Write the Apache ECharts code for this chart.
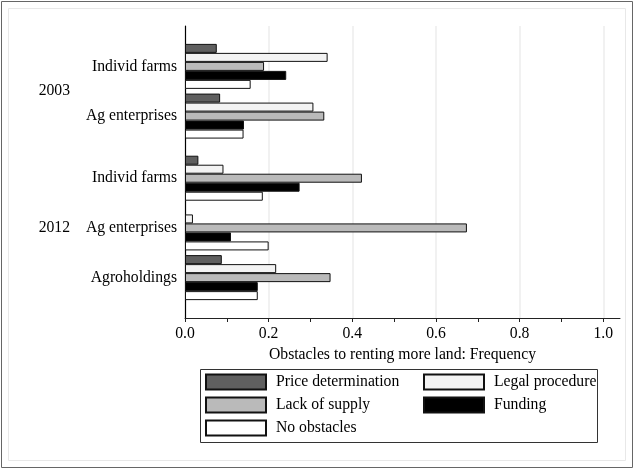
<!DOCTYPE html>
<html>
<head>
<meta charset="utf-8">
<script src="https://cdn.jsdelivr.net/npm/echarts@6/dist/echarts.min.js"></script>
<style>
  html, body { margin: 0; padding: 0; background: #fff; }
  #chart { width: 635px; height: 470px; }
</style>
</head>
<body>
<div id="chart"></div>
<script>
// rows, top to bottom
const categories = ['Individ farms', 'Ag enterprises', 'Individ farms', 'Ag enterprises', 'Agroholdings'];
const years = ['2003', '2012'];

const priceDetermination = [0.076, 0.084, 0.032, 0, 0.088];
const legalProcedure = [0.341, 0.307, 0.092, 0.019, 0.218];
const lackOfSupply = [0.189, 0.333, 0.423, 0.674, 0.348];
const funding = [0.242, 0.141, 0.274, 0.110, 0.174];
const noObstacles = [0.157, 0.140, 0.186, 0.200, 0.174];

const xTickValues = [0, 0.1, 0.2, 0.3, 0.4, 0.5, 0.6, 0.7, 0.8, 0.9, 1.0];
const xLabelValues = [0, 0.2, 0.4, 0.6, 0.8, 1.0];

// layout: the y axis is cut in thin slots so the gap between the years can be wider
const slotCount = 47;
const rowSlot = [6, 14, 24, 32, 40];
const yearSlot = [10, 32];

const font = 'Liberation Serif';
const fontSize = 15.7;

const rowAxisData = new Array(slotCount).fill('');
rowSlot.forEach((s, i) => { rowAxisData[s] = categories[i]; });
const yearAxisData = new Array(slotCount).fill('');
yearSlot.forEach((s, i) => { yearAxisData[s] = years[i]; });

const toSlots = (values) => {
  const out = new Array(slotCount).fill('-');
  rowSlot.forEach((s, i) => {
    // a zero bar would leave a stray outline on the axis
    out[s] = values[i] === 0 ? { value: 0, itemStyle: { borderWidth: 0 } } : values[i];
  });
  return out;
};

const seriesDefs = [
  { name: 'Price determination', values: priceDetermination, color: '#5f5f5f' },
  { name: 'Legal procedure', values: legalProcedure, color: '#f3f3f3' },
  { name: 'Lack of supply', values: lackOfSupply, color: '#bababa' },
  { name: 'Funding', values: funding, color: '#000000' },
  { name: 'No obstacles', values: noObstacles, color: '#ffffff' }
];

const myChart = echarts.init(document.getElementById('chart'));

const legendText = { fontFamily: font, fontSize: fontSize, color: '#000', lineHeight: 18, padding: [0, 0, 0, 5] };

const option = {
  animation: false,
  backgroundColor: '#fff',
  textStyle: { fontFamily: font },
  grid: { left: 185, right: 15, top: 26, bottom: 152 },
  xAxis: [
    {
      type: 'value',
      min: 0,
      max: 1.04,
      name: 'Obstacles to renting more land: Frequency',
      nameLocation: 'middle',
      nameGap: 25,
      nameTextStyle: { fontFamily: font, fontSize: fontSize, color: '#000' },
      axisLine: { show: true, lineStyle: { color: '#222', width: 1 } },
      axisTick: { show: true, length: 4, customValues: xTickValues, lineStyle: { color: '#222' } },
      axisLabel: {
        customValues: xLabelValues,
        fontFamily: font, fontSize: fontSize, color: '#000', margin: 8,
        formatter: (v) => v.toFixed(1)
      },
      splitLine: { show: false }
    },
    {
      // gridlines only
      type: 'value',
      min: 0,
      max: 1.04,
      interval: 0.2,
      position: 'bottom',
      axisLine: { show: false },
      axisTick: { show: false },
      axisLabel: { show: false },
      splitLine: { show: true, showMinLine: false, showMaxLine: false, lineStyle: { color: '#ececec', width: 1.5 } }
    }
  ],
  yAxis: [
    {
      type: 'category',
      inverse: true,
      data: rowAxisData,
      axisLine: { show: true, onZero: false, lineStyle: { color: '#000', width: 1.2 } },
      axisTick: { show: false },
      axisLabel: { interval: 0, fontFamily: font, fontSize: fontSize, color: '#000', margin: 8 },
      splitLine: { show: false }
    },
    {
      type: 'category',
      inverse: true,
      position: 'left',
      offset: 107,
      data: yearAxisData,
      axisLine: { show: false },
      axisTick: { show: false },
      axisLabel: { interval: 0, fontFamily: font, fontSize: fontSize, color: '#000', margin: 8 },
      splitLine: { show: false }
    }
  ],
  legend: [
    {
      orient: 'vertical',
      left: 205,
      top: 373,
      padding: 0,
      itemWidth: 60,
      itemHeight: 15,
      itemGap: 5,
      icon: 'rect',
      textStyle: legendText,
      data: ['Price determination', 'Lack of supply', 'No obstacles'],
      selectedMode: false
    },
    {
      orient: 'vertical',
      left: 423,
      top: 373,
      padding: 0,
      itemWidth: 60,
      itemHeight: 15,
      itemGap: 5,
      icon: 'rect',
      textStyle: legendText,
      data: ['Legal procedure', 'Funding'],
      selectedMode: false
    }
  ],
  graphic: [
    {
      type: 'rect',
      shape: { x: 1.5, y: 1.5, width: 631, height: 466 },
      style: { fill: 'none', stroke: '#666', lineWidth: 1 },
      silent: true
    },
    {
      type: 'rect',
      shape: { x: 8.5, y: 8.5, width: 617, height: 452 },
      style: { fill: 'none', stroke: '#e8e8e8', lineWidth: 1 },
      silent: true
    },
    {
      type: 'rect',
      shape: { x: 200.5, y: 369.5, width: 397, height: 73 },
      style: { fill: 'none', stroke: '#333', lineWidth: 1 },
      silent: true
    }
  ],
  series: seriesDefs.map((s) => ({
    name: s.name,
    type: 'bar',
    xAxisIndex: 0,
    yAxisIndex: 0,
    barWidth: 9,
    barGap: '0%',
    data: toSlots(s.values),
    itemStyle: { color: s.color, borderColor: '#111', borderWidth: 1 }
  }))
};

myChart.setOption(option);
</script>
</body>
</html>
